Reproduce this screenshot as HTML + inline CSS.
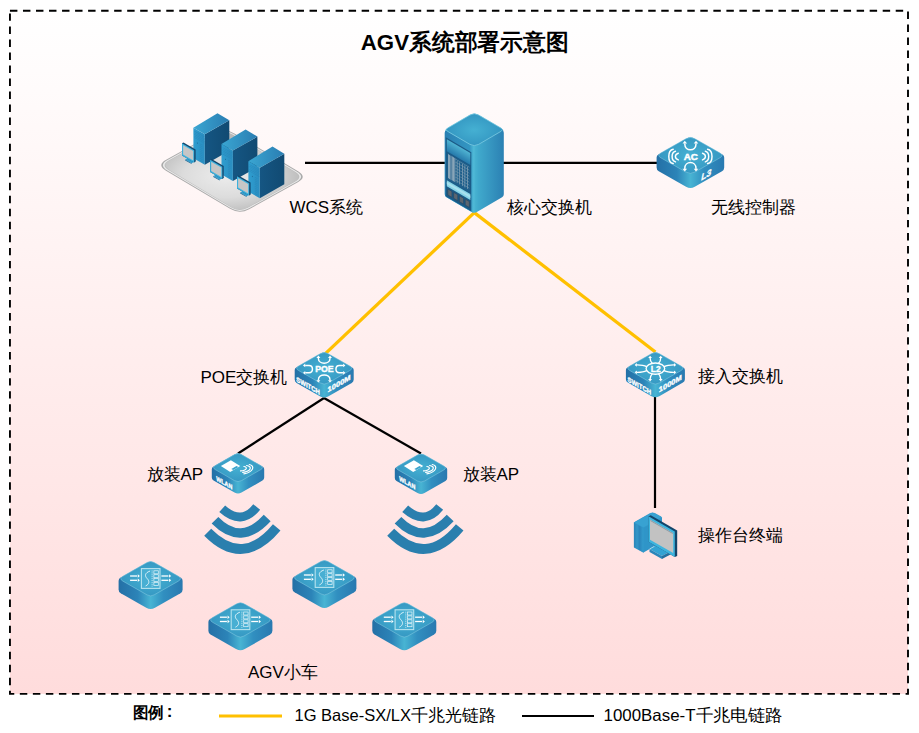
<!DOCTYPE html>
<html><head><meta charset="utf-8"><style>
html,body{margin:0;padding:0;background:#fff;width:919px;height:733px;overflow:hidden;font-family:"Liberation Sans",sans-serif;}
svg{display:block;}
</style></head><body>
<svg width="919" height="733" viewBox="0 0 919 733">
<defs><linearGradient id="bg" x1="0" y1="0" x2="0" y2="1"><stop offset="0" stop-color="#ffffff"/><stop offset="1" stop-color="#ffdcdc"/></linearGradient></defs>
<rect x="9.95" y="10.75" width="898.05" height="683.15" fill="url(#bg)"/>
<rect x="9.95" y="10.75" width="898.05" height="683.15" fill="none" stroke="#000" stroke-width="1.9" stroke-dasharray="7.45 5.576"/>
<g stroke="#000" stroke-width="2.2" fill="none"><line x1="305" y1="162.8" x2="446" y2="162.8"/><line x1="503" y1="162.8" x2="658" y2="162.8"/><line x1="324" y1="398" x2="238" y2="453.5"/><line x1="324" y1="398" x2="421" y2="453.5"/><line x1="655" y1="396" x2="655" y2="508"/></g>
<g stroke="#ffc000" stroke-width="3.3" fill="none"><line x1="474.3" y1="212.6" x2="325.4" y2="353.6"/><line x1="474.3" y1="212.6" x2="655.4" y2="352"/></g>
<defs><linearGradient id="s1" x1="656.6" x2="724.1999999999999" y1="0" y2="0" gradientUnits="userSpaceOnUse"><stop offset="0" stop-color="#2470a6"/><stop offset="0.3" stop-color="#2c84b8"/><stop offset="0.5" stop-color="#48b4d3"/><stop offset="0.7" stop-color="#318fc0"/><stop offset="1" stop-color="#2979b0"/></linearGradient><radialGradient id="t2" cx="690.4" cy="155.39999999999998" r="33.8" gradientUnits="userSpaceOnUse" gradientTransform="translate(0 155.39999999999998) scale(1 0.5680) translate(0 -155.39999999999998)"><stop offset="0" stop-color="#45b0d2"/><stop offset="1" stop-color="#3597c2"/></radialGradient></defs>
<path d="M686.05,138.67 Q690.40,136.20 694.75,138.67 L722.46,154.41 Q724.20,155.40 724.20,157.40 L724.20,167.50 Q724.20,170.00 722.03,171.23 L694.75,186.73 Q690.40,189.20 686.05,186.73 L658.77,171.23 Q656.60,170.00 656.60,167.50 L656.60,157.40 Q656.60,155.40 658.34,154.41 Z" fill="url(#s1)"/>
<path d="M686.05,138.67 Q690.40,136.20 694.75,138.67 L719.85,152.93 Q724.20,155.40 719.85,157.87 L694.75,172.13 Q690.40,174.60 686.05,172.13 L660.95,157.87 Q656.60,155.40 660.95,152.93 Z" fill="url(#t2)" stroke="#7cc6df" stroke-width="0.6"/>
<g fill="none" stroke="#fff" stroke-width="1.45" stroke-linecap="round">
<path d="M673.20,149.3 C667.33,150.50 667.33,162.30 673.20,163.5"/>
<path d="M675.50,151.3 C670.97,152.50 670.97,160.70 675.50,161.9"/>
<path d="M678.30,153.3 C674.43,154.50 674.43,158.70 678.30,159.9"/>
<path d="M707.60,149.3 C713.47,150.50 713.47,162.30 707.60,163.5"/>
<path d="M705.30,151.3 C709.83,152.50 709.83,160.70 705.30,161.9"/>
<path d="M702.50,153.3 C706.37,154.50 706.37,158.70 702.50,159.9"/>
</g><g fill="none" stroke="#fff" stroke-width="1.5" stroke-linecap="round">
<path d="M684.80,144.0 C684.80,151.8 696.00,151.8 696.00,144.0"/>
<path d="M684.80,168.4 C684.80,160.6 696.00,160.6 696.00,168.4"/>
</g>
<polygon points="684.80,140.80 687.10,143.56 682.50,143.56" fill="#fff"/><polygon points="696.00,140.80 698.30,143.56 693.70,143.56" fill="#fff"/>
<polygon points="684.80,171.60 682.50,168.84 687.10,168.84" fill="#fff"/><polygon points="696.00,171.60 693.70,168.84 698.30,168.84" fill="#fff"/>
<text x="690.8" y="159.5" font-size="9.8" font-weight="bold" fill="#fff" stroke="#fff" stroke-width="0.5" text-anchor="middle" font-family="Liberation Sans, sans-serif">AC</text>
<text transform="matrix(1 -0.57 0 1 700.8 180.8) skewX(-12)" font-size="8.6" font-weight="bold" fill="#fff" stroke="#fff" stroke-width="0.3" font-family="Liberation Sans, sans-serif">L3</text>
<defs><linearGradient id="s3" x1="294.7" x2="353.7" y1="0" y2="0" gradientUnits="userSpaceOnUse"><stop offset="0" stop-color="#2470a6"/><stop offset="0.3" stop-color="#2c84b8"/><stop offset="0.5" stop-color="#48b4d3"/><stop offset="0.7" stop-color="#318fc0"/><stop offset="1" stop-color="#2979b0"/></linearGradient><radialGradient id="t4" cx="324.2" cy="368.29999999999995" r="29.5" gradientUnits="userSpaceOnUse" gradientTransform="translate(0 368.29999999999995) scale(1 0.5729) translate(0 -368.29999999999995)"><stop offset="0" stop-color="#45b0d2"/><stop offset="1" stop-color="#3597c2"/></radialGradient></defs>
<path d="M320.30,353.64 Q324.20,351.40 328.10,353.64 L352.14,367.41 Q353.70,368.30 353.70,370.10 L353.70,379.55 Q353.70,381.80 351.75,382.92 L328.10,396.46 Q324.20,398.70 320.30,396.46 L296.65,382.92 Q294.70,381.80 294.70,379.55 L294.70,370.10 Q294.70,368.30 296.26,367.41 Z" fill="url(#s3)"/>
<path d="M320.30,353.64 Q324.20,351.40 328.10,353.64 L349.80,366.06 Q353.70,368.30 349.80,370.54 L328.10,382.96 Q324.20,385.20 320.30,382.96 L298.60,370.54 Q294.70,368.30 298.60,366.06 Z" fill="url(#t4)" stroke="#7cc6df" stroke-width="0.6"/>
<g fill="none" stroke="#fff" stroke-width="1.45" stroke-linecap="round">
<path d="M318.40,358.4 C318.40,364.8 330.00,364.8 330.00,358.4"/>
<path d="M318.40,379.8 C318.40,373.4 330.00,373.4 330.00,379.8"/>
<path d="M305.80,365.4 L309.00,365.4 C313.60,365.4 313.60,372.8 309.00,372.8 L305.80,372.8"/>
<path d="M342.60,365.4 L339.40,365.4 C334.80,365.4 334.80,372.8 339.40,372.8 L342.60,372.8"/>
</g>
<polygon points="318.40,355.60 320.40,358.00 316.40,358.00" fill="#fff"/><polygon points="330.00,355.60 332.00,358.00 328.00,358.00" fill="#fff"/>
<polygon points="318.40,382.60 316.40,380.20 320.40,380.20" fill="#fff"/><polygon points="330.00,382.60 328.00,380.20 332.00,380.20" fill="#fff"/>
<polygon points="303.00,365.40 305.28,363.50 305.28,367.30" fill="#fff"/><polygon points="303.00,372.80 305.28,370.90 305.28,374.70" fill="#fff"/>
<polygon points="345.40,365.40 343.12,367.30 343.12,363.50" fill="#fff"/><polygon points="345.40,372.80 343.12,374.70 343.12,370.90" fill="#fff"/>
<text x="324.4" y="372.0" font-size="8.9" font-weight="bold" fill="#fff" stroke="#fff" stroke-width="0.4" text-anchor="middle" font-family="Liberation Sans, sans-serif" textLength="18.5" lengthAdjust="spacingAndGlyphs">POE</text>
<text transform="matrix(1 0.572 0 1 296.30 381.40)" font-size="7.0" font-weight="bold" fill="#fff" stroke="#fff" stroke-width="0.35" font-family="Liberation Sans, sans-serif" textLength="23.5" lengthAdjust="spacingAndGlyphs">SWITCH</text>
<text transform="matrix(1 -0.572 0 1 327.60 392.60)" font-size="7.2" font-weight="bold" fill="#fff" stroke="#fff" stroke-width="0.35" font-family="Liberation Sans, sans-serif" textLength="23" lengthAdjust="spacingAndGlyphs">1000M</text>
<defs><linearGradient id="s5" x1="625.9" x2="684.9" y1="0" y2="0" gradientUnits="userSpaceOnUse"><stop offset="0" stop-color="#2470a6"/><stop offset="0.3" stop-color="#2c84b8"/><stop offset="0.5" stop-color="#48b4d3"/><stop offset="0.7" stop-color="#318fc0"/><stop offset="1" stop-color="#2979b0"/></linearGradient><radialGradient id="t6" cx="655.4" cy="368.29999999999995" r="29.5" gradientUnits="userSpaceOnUse" gradientTransform="translate(0 368.29999999999995) scale(1 0.5729) translate(0 -368.29999999999995)"><stop offset="0" stop-color="#45b0d2"/><stop offset="1" stop-color="#3597c2"/></radialGradient></defs>
<path d="M651.50,353.64 Q655.40,351.40 659.30,353.64 L683.34,367.41 Q684.90,368.30 684.90,370.10 L684.90,379.25 Q684.90,381.50 682.95,382.62 L659.30,396.16 Q655.40,398.40 651.50,396.16 L627.85,382.62 Q625.90,381.50 625.90,379.25 L625.90,370.10 Q625.90,368.30 627.46,367.41 Z" fill="url(#s5)"/>
<path d="M651.50,353.64 Q655.40,351.40 659.30,353.64 L681.00,366.06 Q684.90,368.30 681.00,370.54 L659.30,382.96 Q655.40,385.20 651.50,382.96 L629.80,370.54 Q625.90,368.30 629.80,366.06 Z" fill="url(#t6)" stroke="#7cc6df" stroke-width="0.6"/>
<g fill="none" stroke="#fff" stroke-width="1.35" stroke-linecap="round">
<ellipse cx="655.4" cy="368.6" rx="9.3" ry="5.6"/>
<path d="M652.20,363.30 Q650.10,361.10 650.10,358.10"/>
<path d="M652.20,373.90 Q650.10,376.10 650.10,379.10"/>
<path d="M646.60,366.60 Q643.40,364.90 637.20,364.90"/>
<path d="M646.60,370.60 Q643.40,372.30 637.20,372.30"/>
<path d="M658.60,363.30 Q660.70,361.10 660.70,358.10"/>
<path d="M658.60,373.90 Q660.70,376.10 660.70,379.10"/>
<path d="M664.20,366.60 Q667.40,364.90 673.60,364.90"/>
<path d="M664.20,370.60 Q667.40,372.30 673.60,372.30"/>
</g>
<polygon points="650.10,355.80 652.00,358.08 648.20,358.08" fill="#fff"/><polygon points="650.10,381.40 648.20,379.12 652.00,379.12" fill="#fff"/>
<polygon points="634.60,364.90 636.88,363.00 636.88,366.80" fill="#fff"/><polygon points="634.60,372.30 636.88,370.40 636.88,374.20" fill="#fff"/>
<polygon points="660.70,355.80 662.60,358.08 658.80,358.08" fill="#fff"/><polygon points="660.70,381.40 658.80,379.12 662.60,379.12" fill="#fff"/>
<polygon points="676.20,364.90 673.92,366.80 673.92,363.00" fill="#fff"/><polygon points="676.20,372.30 673.92,374.20 673.92,370.40" fill="#fff"/>
<text x="655.6999999999999" y="371.70" font-size="8.4" font-weight="bold" fill="#fff" stroke="#fff" stroke-width="0.35" text-anchor="middle" font-family="Liberation Sans, sans-serif">L2</text>
<text transform="matrix(1 0.572 0 1 627.50 381.40)" font-size="7.0" font-weight="bold" fill="#fff" stroke="#fff" stroke-width="0.35" font-family="Liberation Sans, sans-serif" textLength="23.5" lengthAdjust="spacingAndGlyphs">SWITCH</text>
<text transform="matrix(1 -0.572 0 1 658.80 392.60)" font-size="7.2" font-weight="bold" fill="#fff" stroke="#fff" stroke-width="0.35" font-family="Liberation Sans, sans-serif" textLength="23" lengthAdjust="spacingAndGlyphs">1000M</text>
<defs><linearGradient id="s7" x1="211.8" x2="264.2" y1="0" y2="0" gradientUnits="userSpaceOnUse"><stop offset="0" stop-color="#2470a6"/><stop offset="0.3" stop-color="#2c84b8"/><stop offset="0.5" stop-color="#48b4d3"/><stop offset="0.7" stop-color="#318fc0"/><stop offset="1" stop-color="#2979b0"/></linearGradient><radialGradient id="t8" cx="238" cy="467.6" r="26.2" gradientUnits="userSpaceOnUse" gradientTransform="translate(0 467.6) scale(1 0.5725) translate(0 -467.6)"><stop offset="0" stop-color="#45b0d2"/><stop offset="1" stop-color="#3597c2"/></radialGradient></defs>
<path d="M234.53,454.59 Q238.00,452.60 241.47,454.59 L262.81,466.81 Q264.20,467.60 264.20,469.20 L264.20,477.60 Q264.20,479.60 262.46,480.59 L241.47,492.61 Q238.00,494.60 234.53,492.61 L213.54,480.59 Q211.80,479.60 211.80,477.60 L211.80,469.20 Q211.80,467.60 213.19,466.81 Z" fill="url(#s7)"/>
<path d="M234.53,454.59 Q238.00,452.60 241.47,454.59 L260.73,465.61 Q264.20,467.60 260.73,469.59 L241.47,480.61 Q238.00,482.60 234.53,480.61 L215.27,469.59 Q211.80,467.60 215.27,465.61 Z" fill="url(#t8)" stroke="#7cc6df" stroke-width="0.6"/>
<polygon points="220.90,465.90 230.90,460.20 240.20,466.10 230.20,471.90" fill="#fff"/>
<polygon points="231.30,468.90 236.50,465.90 238.40,467.00 233.20,470.00" fill="#3aa3cc"/>
<g fill="none" stroke="#fff" stroke-width="1.2" stroke-linecap="round" transform="translate(0 0)"><path d="M243.9,466.5 C248,467 247,470.4 240.5,470.9"/><path d="M246.6,465.5 C252.5,466.2 251.5,471.2 242.7,472.4"/><path d="M249.3,464.5 C255,465.5 254,472 243.9,473.9"/></g>
<text transform="matrix(1 0.57 0 1 216.30 480.5)" font-size="6.6" font-weight="bold" fill="#fff" stroke="#fff" stroke-width="0.35" font-family="Liberation Sans, sans-serif" textLength="16" lengthAdjust="spacingAndGlyphs">WLAN</text>
<defs><linearGradient id="s9" x1="394.8" x2="447.2" y1="0" y2="0" gradientUnits="userSpaceOnUse"><stop offset="0" stop-color="#2470a6"/><stop offset="0.3" stop-color="#2c84b8"/><stop offset="0.5" stop-color="#48b4d3"/><stop offset="0.7" stop-color="#318fc0"/><stop offset="1" stop-color="#2979b0"/></linearGradient><radialGradient id="t10" cx="421" cy="468.0" r="26.2" gradientUnits="userSpaceOnUse" gradientTransform="translate(0 468.0) scale(1 0.5725) translate(0 -468.0)"><stop offset="0" stop-color="#45b0d2"/><stop offset="1" stop-color="#3597c2"/></radialGradient></defs>
<path d="M417.53,454.99 Q421.00,453.00 424.47,454.99 L445.81,467.21 Q447.20,468.00 447.20,469.60 L447.20,478.00 Q447.20,480.00 445.46,480.99 L424.47,493.01 Q421.00,495.00 417.53,493.01 L396.54,480.99 Q394.80,480.00 394.80,478.00 L394.80,469.60 Q394.80,468.00 396.19,467.21 Z" fill="url(#s9)"/>
<path d="M417.53,454.99 Q421.00,453.00 424.47,454.99 L443.73,466.01 Q447.20,468.00 443.73,469.99 L424.47,481.01 Q421.00,483.00 417.53,481.01 L398.27,469.99 Q394.80,468.00 398.27,466.01 Z" fill="url(#t10)" stroke="#7cc6df" stroke-width="0.6"/>
<polygon points="403.90,465.90 413.90,460.20 423.20,466.10 413.20,471.90" fill="#fff"/>
<polygon points="414.30,468.90 419.50,465.90 421.40,467.00 416.20,470.00" fill="#3aa3cc"/>
<g fill="none" stroke="#fff" stroke-width="1.2" stroke-linecap="round" transform="translate(183 0)"><path d="M243.9,466.5 C248,467 247,470.4 240.5,470.9"/><path d="M246.6,465.5 C252.5,466.2 251.5,471.2 242.7,472.4"/><path d="M249.3,464.5 C255,465.5 254,472 243.9,473.9"/></g>
<text transform="matrix(1 0.57 0 1 399.30 480.5)" font-size="6.6" font-weight="bold" fill="#fff" stroke="#fff" stroke-width="0.35" font-family="Liberation Sans, sans-serif" textLength="16" lengthAdjust="spacingAndGlyphs">WLAN</text>
<defs><linearGradient id="s11" x1="118.6" x2="182.6" y1="0" y2="0" gradientUnits="userSpaceOnUse"><stop offset="0" stop-color="#2470a6"/><stop offset="0.3" stop-color="#2c84b8"/><stop offset="0.5" stop-color="#48b4d3"/><stop offset="0.7" stop-color="#318fc0"/><stop offset="1" stop-color="#2979b0"/></linearGradient><radialGradient id="t12" cx="150.6" cy="578.7" r="32" gradientUnits="userSpaceOnUse" gradientTransform="translate(0 578.7) scale(1 0.5687) translate(0 -578.7)"><stop offset="0" stop-color="#45b0d2"/><stop offset="1" stop-color="#3597c2"/></radialGradient></defs>
<path d="M146.25,562.97 Q150.60,560.50 154.95,562.97 L180.86,577.71 Q182.60,578.70 182.60,580.70 L182.60,589.60 Q182.60,592.10 180.43,593.34 L154.95,607.83 Q150.60,610.30 146.25,607.83 L120.77,593.34 Q118.60,592.10 118.60,589.60 L118.60,580.70 Q118.60,578.70 120.34,577.71 Z" fill="url(#s11)"/>
<path d="M147.12,562.48 Q150.60,560.50 154.08,562.48 L178.25,576.23 Q182.60,578.70 178.25,581.17 L154.08,594.92 Q150.60,596.90 147.12,594.92 L122.95,581.17 Q118.60,578.70 122.95,576.23 Z" fill="url(#t12)" stroke="#7cc6df" stroke-width="0.6"/>
<rect x="141.40" y="568.60" width="18.6" height="19.8" fill="#48afd3" stroke="#b6e2ee" stroke-width="1.1"/>
<path d="M150.10,571.00 C144.60,573.00 144.60,576.00 147.10,578.50 C149.60,581.00 149.60,584.00 145.60,586.00" fill="none" stroke="#e8f6fa" stroke-width="0.9"/>
<line x1="152.10" y1="570.50" x2="152.10" y2="586.50" stroke="#e8f6fa" stroke-width="0.8" stroke-dasharray="1 0.9"/>
<rect x="153.90" y="570.80" width="4.4" height="3" fill="none" stroke="#e8f6fa" stroke-width="0.7"/>
<rect x="153.90" y="574.70" width="4.4" height="3" fill="none" stroke="#e8f6fa" stroke-width="0.7"/>
<rect x="153.90" y="578.60" width="4.4" height="3" fill="none" stroke="#e8f6fa" stroke-width="0.7"/>
<rect x="153.90" y="582.50" width="4.4" height="3" fill="none" stroke="#e8f6fa" stroke-width="0.7"/>
<line x1="130.10" y1="576.00" x2="137.10" y2="576.00" stroke="#fff" stroke-width="1.3"/>
<polygon points="139.90,576.00 137.74,577.80 137.74,574.20" fill="#fff"/>
<line x1="130.10" y1="580.30" x2="137.10" y2="580.30" stroke="#fff" stroke-width="1.3"/>
<polygon points="139.90,580.30 137.74,582.10 137.74,578.50" fill="#fff"/>
<line x1="161.40" y1="576.00" x2="168.40" y2="576.00" stroke="#fff" stroke-width="1.3"/>
<polygon points="171.20,576.00 169.04,577.80 169.04,574.20" fill="#fff"/>
<line x1="161.40" y1="580.30" x2="168.40" y2="580.30" stroke="#fff" stroke-width="1.3"/>
<polygon points="171.20,580.30 169.04,582.10 169.04,578.50" fill="#fff"/>
<defs><linearGradient id="s13" x1="208.4" x2="272.4" y1="0" y2="0" gradientUnits="userSpaceOnUse"><stop offset="0" stop-color="#2470a6"/><stop offset="0.3" stop-color="#2c84b8"/><stop offset="0.5" stop-color="#48b4d3"/><stop offset="0.7" stop-color="#318fc0"/><stop offset="1" stop-color="#2979b0"/></linearGradient><radialGradient id="t14" cx="240.4" cy="619.9000000000001" r="32" gradientUnits="userSpaceOnUse" gradientTransform="translate(0 619.9000000000001) scale(1 0.5687) translate(0 -619.9000000000001)"><stop offset="0" stop-color="#45b0d2"/><stop offset="1" stop-color="#3597c2"/></radialGradient></defs>
<path d="M236.05,604.17 Q240.40,601.70 244.75,604.17 L270.66,618.91 Q272.40,619.90 272.40,621.90 L272.40,630.80 Q272.40,633.30 270.23,634.54 L244.75,649.03 Q240.40,651.50 236.05,649.03 L210.57,634.54 Q208.40,633.30 208.40,630.80 L208.40,621.90 Q208.40,619.90 210.14,618.91 Z" fill="url(#s13)"/>
<path d="M236.92,603.68 Q240.40,601.70 243.88,603.68 L268.05,617.43 Q272.40,619.90 268.05,622.37 L243.88,636.12 Q240.40,638.10 236.92,636.12 L212.75,622.37 Q208.40,619.90 212.75,617.43 Z" fill="url(#t14)" stroke="#7cc6df" stroke-width="0.6"/>
<rect x="231.20" y="609.80" width="18.6" height="19.8" fill="#48afd3" stroke="#b6e2ee" stroke-width="1.1"/>
<path d="M239.90,612.20 C234.40,614.20 234.40,617.20 236.90,619.70 C239.40,622.20 239.40,625.20 235.40,627.20" fill="none" stroke="#e8f6fa" stroke-width="0.9"/>
<line x1="241.90" y1="611.70" x2="241.90" y2="627.70" stroke="#e8f6fa" stroke-width="0.8" stroke-dasharray="1 0.9"/>
<rect x="243.70" y="612.00" width="4.4" height="3" fill="none" stroke="#e8f6fa" stroke-width="0.7"/>
<rect x="243.70" y="615.90" width="4.4" height="3" fill="none" stroke="#e8f6fa" stroke-width="0.7"/>
<rect x="243.70" y="619.80" width="4.4" height="3" fill="none" stroke="#e8f6fa" stroke-width="0.7"/>
<rect x="243.70" y="623.70" width="4.4" height="3" fill="none" stroke="#e8f6fa" stroke-width="0.7"/>
<line x1="219.90" y1="617.20" x2="226.90" y2="617.20" stroke="#fff" stroke-width="1.3"/>
<polygon points="229.70,617.20 227.54,619.00 227.54,615.40" fill="#fff"/>
<line x1="219.90" y1="621.50" x2="226.90" y2="621.50" stroke="#fff" stroke-width="1.3"/>
<polygon points="229.70,621.50 227.54,623.30 227.54,619.70" fill="#fff"/>
<line x1="251.20" y1="617.20" x2="258.20" y2="617.20" stroke="#fff" stroke-width="1.3"/>
<polygon points="261.00,617.20 258.84,619.00 258.84,615.40" fill="#fff"/>
<line x1="251.20" y1="621.50" x2="258.20" y2="621.50" stroke="#fff" stroke-width="1.3"/>
<polygon points="261.00,621.50 258.84,623.30 258.84,619.70" fill="#fff"/>
<defs><linearGradient id="s15" x1="292.4" x2="356.4" y1="0" y2="0" gradientUnits="userSpaceOnUse"><stop offset="0" stop-color="#2470a6"/><stop offset="0.3" stop-color="#2c84b8"/><stop offset="0.5" stop-color="#48b4d3"/><stop offset="0.7" stop-color="#318fc0"/><stop offset="1" stop-color="#2979b0"/></linearGradient><radialGradient id="t16" cx="324.4" cy="577.7" r="32" gradientUnits="userSpaceOnUse" gradientTransform="translate(0 577.7) scale(1 0.5687) translate(0 -577.7)"><stop offset="0" stop-color="#45b0d2"/><stop offset="1" stop-color="#3597c2"/></radialGradient></defs>
<path d="M320.05,561.97 Q324.40,559.50 328.75,561.97 L354.66,576.71 Q356.40,577.70 356.40,579.70 L356.40,588.60 Q356.40,591.10 354.23,592.34 L328.75,606.83 Q324.40,609.30 320.05,606.83 L294.57,592.34 Q292.40,591.10 292.40,588.60 L292.40,579.70 Q292.40,577.70 294.14,576.71 Z" fill="url(#s15)"/>
<path d="M320.92,561.48 Q324.40,559.50 327.88,561.48 L352.05,575.23 Q356.40,577.70 352.05,580.17 L327.88,593.92 Q324.40,595.90 320.92,593.92 L296.75,580.17 Q292.40,577.70 296.75,575.23 Z" fill="url(#t16)" stroke="#7cc6df" stroke-width="0.6"/>
<rect x="315.20" y="567.60" width="18.6" height="19.8" fill="#48afd3" stroke="#b6e2ee" stroke-width="1.1"/>
<path d="M323.90,570.00 C318.40,572.00 318.40,575.00 320.90,577.50 C323.40,580.00 323.40,583.00 319.40,585.00" fill="none" stroke="#e8f6fa" stroke-width="0.9"/>
<line x1="325.90" y1="569.50" x2="325.90" y2="585.50" stroke="#e8f6fa" stroke-width="0.8" stroke-dasharray="1 0.9"/>
<rect x="327.70" y="569.80" width="4.4" height="3" fill="none" stroke="#e8f6fa" stroke-width="0.7"/>
<rect x="327.70" y="573.70" width="4.4" height="3" fill="none" stroke="#e8f6fa" stroke-width="0.7"/>
<rect x="327.70" y="577.60" width="4.4" height="3" fill="none" stroke="#e8f6fa" stroke-width="0.7"/>
<rect x="327.70" y="581.50" width="4.4" height="3" fill="none" stroke="#e8f6fa" stroke-width="0.7"/>
<line x1="303.90" y1="575.00" x2="310.90" y2="575.00" stroke="#fff" stroke-width="1.3"/>
<polygon points="313.70,575.00 311.54,576.80 311.54,573.20" fill="#fff"/>
<line x1="303.90" y1="579.30" x2="310.90" y2="579.30" stroke="#fff" stroke-width="1.3"/>
<polygon points="313.70,579.30 311.54,581.10 311.54,577.50" fill="#fff"/>
<line x1="335.20" y1="575.00" x2="342.20" y2="575.00" stroke="#fff" stroke-width="1.3"/>
<polygon points="345.00,575.00 342.84,576.80 342.84,573.20" fill="#fff"/>
<line x1="335.20" y1="579.30" x2="342.20" y2="579.30" stroke="#fff" stroke-width="1.3"/>
<polygon points="345.00,579.30 342.84,581.10 342.84,577.50" fill="#fff"/>
<defs><linearGradient id="s17" x1="372.3" x2="436.3" y1="0" y2="0" gradientUnits="userSpaceOnUse"><stop offset="0" stop-color="#2470a6"/><stop offset="0.3" stop-color="#2c84b8"/><stop offset="0.5" stop-color="#48b4d3"/><stop offset="0.7" stop-color="#318fc0"/><stop offset="1" stop-color="#2979b0"/></linearGradient><radialGradient id="t18" cx="404.3" cy="619.9000000000001" r="32" gradientUnits="userSpaceOnUse" gradientTransform="translate(0 619.9000000000001) scale(1 0.5687) translate(0 -619.9000000000001)"><stop offset="0" stop-color="#45b0d2"/><stop offset="1" stop-color="#3597c2"/></radialGradient></defs>
<path d="M399.95,604.17 Q404.30,601.70 408.65,604.17 L434.56,618.91 Q436.30,619.90 436.30,621.90 L436.30,630.80 Q436.30,633.30 434.13,634.54 L408.65,649.03 Q404.30,651.50 399.95,649.03 L374.47,634.54 Q372.30,633.30 372.30,630.80 L372.30,621.90 Q372.30,619.90 374.04,618.91 Z" fill="url(#s17)"/>
<path d="M400.82,603.68 Q404.30,601.70 407.78,603.68 L431.95,617.43 Q436.30,619.90 431.95,622.37 L407.78,636.12 Q404.30,638.10 400.82,636.12 L376.65,622.37 Q372.30,619.90 376.65,617.43 Z" fill="url(#t18)" stroke="#7cc6df" stroke-width="0.6"/>
<rect x="395.10" y="609.80" width="18.6" height="19.8" fill="#48afd3" stroke="#b6e2ee" stroke-width="1.1"/>
<path d="M403.80,612.20 C398.30,614.20 398.30,617.20 400.80,619.70 C403.30,622.20 403.30,625.20 399.30,627.20" fill="none" stroke="#e8f6fa" stroke-width="0.9"/>
<line x1="405.80" y1="611.70" x2="405.80" y2="627.70" stroke="#e8f6fa" stroke-width="0.8" stroke-dasharray="1 0.9"/>
<rect x="407.60" y="612.00" width="4.4" height="3" fill="none" stroke="#e8f6fa" stroke-width="0.7"/>
<rect x="407.60" y="615.90" width="4.4" height="3" fill="none" stroke="#e8f6fa" stroke-width="0.7"/>
<rect x="407.60" y="619.80" width="4.4" height="3" fill="none" stroke="#e8f6fa" stroke-width="0.7"/>
<rect x="407.60" y="623.70" width="4.4" height="3" fill="none" stroke="#e8f6fa" stroke-width="0.7"/>
<line x1="383.80" y1="617.20" x2="390.80" y2="617.20" stroke="#fff" stroke-width="1.3"/>
<polygon points="393.60,617.20 391.44,619.00 391.44,615.40" fill="#fff"/>
<line x1="383.80" y1="621.50" x2="390.80" y2="621.50" stroke="#fff" stroke-width="1.3"/>
<polygon points="393.60,621.50 391.44,623.30 391.44,619.70" fill="#fff"/>
<line x1="415.10" y1="617.20" x2="422.10" y2="617.20" stroke="#fff" stroke-width="1.3"/>
<polygon points="424.90,617.20 422.74,619.00 422.74,615.40" fill="#fff"/>
<line x1="415.10" y1="621.50" x2="422.10" y2="621.50" stroke="#fff" stroke-width="1.3"/>
<polygon points="424.90,621.50 422.74,623.30 422.74,619.70" fill="#fff"/>
<g fill="none" stroke="#2a7fae" stroke-linecap="butt" transform="translate(0 0)"><path d="M222.2,508.75 Q241.55,526.1 256.7,507" stroke-width="8.8"/><path d="M215,520.35 Q240.9,546.8 267.2,518" stroke-width="9.3"/><path d="M207.7,532.25 Q242.8,568 276.7,527.35" stroke-width="9.8"/></g>
<g fill="none" stroke="#2a7fae" stroke-linecap="butt" transform="translate(183 0)"><path d="M222.2,508.75 Q241.55,526.1 256.7,507" stroke-width="8.8"/><path d="M215,520.35 Q240.9,546.8 267.2,518" stroke-width="9.3"/><path d="M207.7,532.25 Q242.8,568 276.7,527.35" stroke-width="9.8"/></g>
<defs><linearGradient id="coreR" x1="474" x2="504" y1="0" y2="0" gradientUnits="userSpaceOnUse"><stop offset="0" stop-color="#4ab5d3"/><stop offset="0.15" stop-color="#40a9cc"/><stop offset="1" stop-color="#2b80b3"/></linearGradient><linearGradient id="coreL" x1="445" x2="474" y1="0" y2="0" gradientUnits="userSpaceOnUse"><stop offset="0" stop-color="#2a80b3"/><stop offset="0.85" stop-color="#3396c2"/><stop offset="1" stop-color="#52bcd8"/></linearGradient><radialGradient id="coreT" cx="474" cy="130" r="30" gradientUnits="userSpaceOnUse" gradientTransform="translate(0 130) scale(1 0.58) translate(0 -130)"><stop offset="0" stop-color="#45b0d2"/><stop offset="1" stop-color="#3294c0"/></radialGradient><linearGradient id="scr" x1="0" x2="0" y1="0" y2="1"><stop offset="0" stop-color="#4fb3d2"/><stop offset="1" stop-color="#2579ab"/></linearGradient></defs>
<path d="M469.98,115.02 Q474.30,112.50 478.62,115.02 L501.21,128.19 Q503.80,129.70 503.80,132.70 L503.80,194.20 Q503.80,196.20 502.07,197.21 L476.89,211.89 Q474.30,213.40 471.71,211.89 L446.53,197.21 Q444.80,196.20 444.80,194.20 L444.80,132.70 Q444.80,129.70 447.39,128.19 Z" fill="url(#coreR)"/>
<path d="M444.80,132.70 Q444.80,129.70 447.39,131.21 L474.21,146.85 Q474.30,146.90 474.30,147.00 L474.30,210.40 Q474.30,213.40 471.71,211.89 L446.53,197.21 Q444.80,196.20 444.80,194.20 Z" fill="url(#coreL)"/>
<g transform="matrix(1 0.5831 0 1 444.8 129.7)"><rect x="1" y="7" width="25.5" height="59" fill="#1b5a86"/><rect x="2" y="8.5" width="23.5" height="12" fill="url(#scr)"/><rect x="2.5" y="21.5" width="22.5" height="27" fill="#1f5f8b"/><rect x="3.20" y="22.5" width="0.7" height="24" fill="#b8c4cc"/><rect x="4.50" y="22.5" width="0.7" height="24" fill="#b8c4cc"/><rect x="5.80" y="22.5" width="0.7" height="24" fill="#b8c4cc"/><rect x="7.10" y="22.5" width="0.7" height="24" fill="#b8c4cc"/><rect x="8.40" y="22.5" width="0.7" height="24" fill="#b8c4cc"/><rect x="9.70" y="22.5" width="0.7" height="24" fill="#b8c4cc"/><rect x="12.00" y="24" width="0.6" height="22" fill="#9fb3c0"/><rect x="14.60" y="24" width="0.6" height="22" fill="#9fb3c0"/><rect x="17.20" y="24" width="0.6" height="22" fill="#9fb3c0"/><rect x="19.80" y="24" width="0.6" height="22" fill="#9fb3c0"/><rect x="22.40" y="24" width="0.6" height="22" fill="#9fb3c0"/><rect x="10.5" y="23.00" width="14" height="0.5" fill="#7f9fb2"/><rect x="10.5" y="26.00" width="14" height="0.5" fill="#7f9fb2"/><rect x="10.5" y="29.00" width="14" height="0.5" fill="#7f9fb2"/><rect x="10.5" y="32.00" width="14" height="0.5" fill="#7f9fb2"/><rect x="10.5" y="35.00" width="14" height="0.5" fill="#7f9fb2"/><rect x="10.5" y="38.00" width="14" height="0.5" fill="#7f9fb2"/><rect x="10.5" y="41.00" width="14" height="0.5" fill="#7f9fb2"/><rect x="10.5" y="44.00" width="14" height="0.5" fill="#7f9fb2"/><rect x="2" y="49.5" width="23.5" height="6" fill="#86d3e6"/><rect x="2" y="51" width="23.5" height="2.5" fill="#a8e0ee"/><rect x="3.00" y="57.5" width="4.2" height="6" fill="#5c6670" stroke="#244a66" stroke-width="0.6"/><rect x="8.80" y="57.5" width="4.2" height="6" fill="#5c6670" stroke="#244a66" stroke-width="0.6"/><rect x="14.60" y="57.5" width="4.2" height="6" fill="#5c6670" stroke="#244a66" stroke-width="0.6"/><rect x="20.40" y="57.5" width="4.2" height="6" fill="#5c6670" stroke="#244a66" stroke-width="0.6"/></g>
<path d="M469.98,115.02 Q474.30,112.50 478.62,115.02 L501.21,128.19 Q503.80,129.70 501.21,131.21 L478.62,144.38 Q474.30,146.90 469.98,144.38 L447.39,131.21 Q444.80,129.70 447.39,128.19 Z" fill="url(#coreT)" stroke="#7ccbe2" stroke-width="0.8"/>
<defs><linearGradient id="svS" x1="0" x2="1" y1="0" y2="0"><stop offset="0" stop-color="#155683"/><stop offset="1" stop-color="#114a72"/></linearGradient><linearGradient id="svF" x1="0" x2="1" y1="0" y2="0"><stop offset="0" stop-color="#2f9ed0"/><stop offset="1" stop-color="#2a8dc0"/></linearGradient><linearGradient id="svT" x1="0" x2="1" y1="0.5" y2="0.5"><stop offset="0" stop-color="#3aa6d2"/><stop offset="1" stop-color="#2a7db2"/></linearGradient><radialGradient id="plat" cx="226" cy="176" r="78" gradientUnits="userSpaceOnUse" gradientTransform="translate(226 176) scale(1 0.5) translate(-226 -176)"><stop offset="0" stop-color="#ececec"/><stop offset="0.55" stop-color="#dcdcdc"/><stop offset="1" stop-color="#bababa"/></radialGradient></defs>
<path d="M165.95,170.63 Q156.50,165.00 166.13,159.69 L214.87,132.81 Q224.50,127.50 233.95,133.13 L298.05,171.37 Q307.50,177.00 297.87,182.31 L249.13,209.19 Q239.50,214.50 230.05,208.87 Z" fill="#a9a9a9"/>
<path d="M167.31,170.38 Q158.30,165.00 167.49,159.93 L215.31,133.57 Q224.50,128.50 233.51,133.88 L296.69,171.62 Q305.70,177.00 296.51,182.07 L248.69,208.43 Q239.50,213.50 230.49,208.12 Z" fill="#e9e9e9"/>
<path d="M168.88,170.14 Q160.30,165.00 169.06,160.17 L215.74,134.43 Q224.50,129.60 233.08,134.74 L295.12,171.86 Q303.70,177.00 294.94,181.83 L248.26,207.57 Q239.50,212.40 230.92,207.26 Z" fill="#bdbdbd"/>
<path d="M169.45,169.88 Q161.30,165.00 169.62,160.42 L216.18,134.78 Q224.50,130.20 232.65,135.08 L294.55,172.12 Q302.70,177.00 294.38,181.58 L247.82,207.22 Q239.50,211.80 231.35,206.92 Z" fill="url(#plat)"/>
<polygon points="204.80,134.30 229.30,120.30 229.30,150.80 204.80,164.80" fill="url(#svS)"/>
<polygon points="193.40,127.80 204.80,134.30 204.80,164.80 193.40,158.30" fill="url(#svF)"/>
<polygon points="217.50,113.20 229.30,120.30 204.80,134.30 193.40,127.80" fill="url(#svT)"/>
<g transform="matrix(1 0.5702 0 1 193.4 127.8)" fill="#2a88bb"><rect x="1" y="2.50" width="10" height="0.6"/><rect x="1" y="4.10" width="10" height="0.6"/><rect x="1" y="5.70" width="10" height="0.6"/><rect x="1" y="7.30" width="10" height="0.6"/><rect x="1" y="8.90" width="10" height="0.6"/><rect x="6.5" y="12.00" width="2.5" height="0.5" fill="#2986b8"/><rect x="6.5" y="13.80" width="2.5" height="0.5" fill="#2986b8"/><rect x="6.5" y="15.60" width="2.5" height="0.5" fill="#2986b8"/><rect x="6.5" y="17.40" width="2.5" height="0.5" fill="#2986b8"/><rect x="6.5" y="19.20" width="2.5" height="0.5" fill="#2986b8"/><rect x="6.5" y="21.00" width="2.5" height="0.5" fill="#2986b8"/><rect x="6.5" y="22.80" width="2.5" height="0.5" fill="#2986b8"/><rect x="6.5" y="24.60" width="2.5" height="0.5" fill="#2986b8"/><rect x="6.5" y="26.40" width="2.5" height="0.5" fill="#2986b8"/><rect x="6.5" y="28.20" width="2.5" height="0.5" fill="#2986b8"/><circle cx="4" cy="13" r="0.55" fill="#1f6c9c"/></g>
<polygon points="185.20,159.60 189.80,157.20 196.20,160.80 191.60,163.20" fill="#2f9fd0"/>
<polygon points="185.20,159.60 191.60,163.20 191.60,164.00 185.20,160.40" fill="#1d6b9a"/>
<polygon points="189.40,156.00 191.20,157.00 191.20,160.50 189.40,159.50" fill="#2a8cc0"/>
<polygon points="182.00,143.20 183.50,142.40 195.60,149.40 195.60,161.60 194.20,162.40 182.00,155.40" fill="#14466c"/>
<polygon points="182.00,143.20 194.20,150.20 194.20,162.40 182.00,155.40" fill="#3cb2de"/>
<polygon points="183.10,145.20 193.20,151.00 193.20,160.40 183.10,154.60" fill="#c6c6c6"/>
<polygon points="232.90,150.60 257.40,136.60 257.40,167.10 232.90,181.10" fill="url(#svS)"/>
<polygon points="221.50,144.10 232.90,150.60 232.90,181.10 221.50,174.60" fill="url(#svF)"/>
<polygon points="245.60,129.50 257.40,136.60 232.90,150.60 221.50,144.10" fill="url(#svT)"/>
<g transform="matrix(1 0.5702 0 1 221.5 144.1)" fill="#2a88bb"><rect x="1" y="2.50" width="10" height="0.6"/><rect x="1" y="4.10" width="10" height="0.6"/><rect x="1" y="5.70" width="10" height="0.6"/><rect x="1" y="7.30" width="10" height="0.6"/><rect x="1" y="8.90" width="10" height="0.6"/><rect x="6.5" y="12.00" width="2.5" height="0.5" fill="#2986b8"/><rect x="6.5" y="13.80" width="2.5" height="0.5" fill="#2986b8"/><rect x="6.5" y="15.60" width="2.5" height="0.5" fill="#2986b8"/><rect x="6.5" y="17.40" width="2.5" height="0.5" fill="#2986b8"/><rect x="6.5" y="19.20" width="2.5" height="0.5" fill="#2986b8"/><rect x="6.5" y="21.00" width="2.5" height="0.5" fill="#2986b8"/><rect x="6.5" y="22.80" width="2.5" height="0.5" fill="#2986b8"/><rect x="6.5" y="24.60" width="2.5" height="0.5" fill="#2986b8"/><rect x="6.5" y="26.40" width="2.5" height="0.5" fill="#2986b8"/><rect x="6.5" y="28.20" width="2.5" height="0.5" fill="#2986b8"/><circle cx="4" cy="13" r="0.55" fill="#1f6c9c"/></g>
<polygon points="213.30,176.10 217.90,173.70 224.30,177.30 219.70,179.70" fill="#2f9fd0"/>
<polygon points="213.30,176.10 219.70,179.70 219.70,180.50 213.30,176.90" fill="#1d6b9a"/>
<polygon points="217.50,172.50 219.30,173.50 219.30,177.00 217.50,176.00" fill="#2a8cc0"/>
<polygon points="210.10,159.70 211.60,158.90 223.70,165.90 223.70,178.10 222.30,178.90 210.10,171.90" fill="#14466c"/>
<polygon points="210.10,159.70 222.30,166.70 222.30,178.90 210.10,171.90" fill="#3cb2de"/>
<polygon points="211.20,161.70 221.30,167.50 221.30,176.90 211.20,171.10" fill="#c6c6c6"/>
<polygon points="259.80,167.70 284.30,153.70 284.30,184.20 259.80,198.20" fill="url(#svS)"/>
<polygon points="248.40,161.20 259.80,167.70 259.80,198.20 248.40,191.70" fill="url(#svF)"/>
<polygon points="272.50,146.60 284.30,153.70 259.80,167.70 248.40,161.20" fill="url(#svT)"/>
<g transform="matrix(1 0.5702 0 1 248.4 161.2)" fill="#2a88bb"><rect x="1" y="2.50" width="10" height="0.6"/><rect x="1" y="4.10" width="10" height="0.6"/><rect x="1" y="5.70" width="10" height="0.6"/><rect x="1" y="7.30" width="10" height="0.6"/><rect x="1" y="8.90" width="10" height="0.6"/><rect x="6.5" y="12.00" width="2.5" height="0.5" fill="#2986b8"/><rect x="6.5" y="13.80" width="2.5" height="0.5" fill="#2986b8"/><rect x="6.5" y="15.60" width="2.5" height="0.5" fill="#2986b8"/><rect x="6.5" y="17.40" width="2.5" height="0.5" fill="#2986b8"/><rect x="6.5" y="19.20" width="2.5" height="0.5" fill="#2986b8"/><rect x="6.5" y="21.00" width="2.5" height="0.5" fill="#2986b8"/><rect x="6.5" y="22.80" width="2.5" height="0.5" fill="#2986b8"/><rect x="6.5" y="24.60" width="2.5" height="0.5" fill="#2986b8"/><rect x="6.5" y="26.40" width="2.5" height="0.5" fill="#2986b8"/><rect x="6.5" y="28.20" width="2.5" height="0.5" fill="#2986b8"/><circle cx="4" cy="13" r="0.55" fill="#1f6c9c"/></g>
<polygon points="240.20,192.60 244.80,190.20 251.20,193.80 246.60,196.20" fill="#2f9fd0"/>
<polygon points="240.20,192.60 246.60,196.20 246.60,197.00 240.20,193.40" fill="#1d6b9a"/>
<polygon points="244.40,189.00 246.20,190.00 246.20,193.50 244.40,192.50" fill="#2a8cc0"/>
<polygon points="237.00,176.20 238.50,175.40 250.60,182.40 250.60,194.60 249.20,195.40 237.00,188.40" fill="#14466c"/>
<polygon points="237.00,176.20 249.20,183.20 249.20,195.40 237.00,188.40" fill="#3cb2de"/>
<polygon points="238.10,178.20 248.20,184.00 248.20,193.40 238.10,187.60" fill="#c6c6c6"/>
<defs><linearGradient id="pcL" x1="634" x2="644" y1="0" y2="0" gradientUnits="userSpaceOnUse"><stop offset="0" stop-color="#2a83b8"/><stop offset="0.3" stop-color="#3296c8"/><stop offset="0.55" stop-color="#2a86bc"/><stop offset="1" stop-color="#35a0d0"/></linearGradient></defs>
<path d="M634.00,523.00 Q634.00,522.50 634.43,522.25 L649.89,513.48 Q652.50,512.00 655.13,513.44 L661.12,516.72 Q662.00,517.20 662.00,518.20 L662.00,541.00 Q662.00,542.00 661.13,542.49 L643.93,552.25 Q643.50,552.50 643.06,552.26 L634.44,547.54 Q634.00,547.30 634.00,546.80 Z" fill="#2f95c8"/>
<polygon points="634.00,522.50 643.50,527.70 643.50,552.50 634.00,547.30" fill="url(#pcL)" stroke="#2f95c8" stroke-width="0.3"/>
<path d="M634.44,522.74 Q634.00,522.50 634.43,522.25 L649.89,513.48 Q652.50,512.00 655.13,513.44 L661.12,516.72 Q662.00,517.20 661.13,517.69 L643.93,527.45 Q643.50,527.70 643.06,527.46 Z" fill="#38a2d2" stroke="#2f95c8" stroke-width="0.3"/>
<polygon points="649.50,549.00 658.00,544.50 670.50,551.50 662.00,556.00" fill="#33a3d3"/>
<polygon points="649.50,549.00 662.00,556.00 662.00,559.00 649.50,552.00" fill="#2a86ba"/>
<polygon points="662.00,556.00 670.50,551.50 670.50,554.50 662.00,559.00" fill="#23709f"/>
<line x1="649.5" y1="549" x2="654" y2="546.6" stroke="#bfe8f5" stroke-width="0.7"/>
<polygon points="648.50,516.20 650.80,515.20 677.20,530.50 677.20,556.00 674.80,557.00 648.50,541.80" fill="#14456a"/>
<polygon points="648.50,516.20 674.80,531.40 674.80,557.00 648.50,541.80" fill="#3db4de"/>
<polygon points="650.00,519.60 673.20,533.00 673.20,553.00 650.00,539.80" fill="#c2c2c2"/>
<polygon points="650.40,520.00 672.80,533.00 672.80,534.00 650.40,521.00" fill="#8a9aa4"/>
<g font-family="Liberation Sans, sans-serif" fill="#000">
<text x="360.8" y="50.4" font-size="22.5" font-weight="bold" textLength="207.5" lengthAdjust="spacingAndGlyphs">AGV系统部署示意图</text>
<text x="289.5" y="213" font-size="17" font-weight="normal" >WCS系统</text>
<text x="507" y="213" font-size="17" font-weight="normal" >核心交换机</text>
<text x="710.5" y="213" font-size="17" font-weight="normal" >无线控制器</text>
<text x="200.5" y="383" font-size="17" font-weight="normal" >POE交换机</text>
<text x="698" y="381.5" font-size="17" font-weight="normal" >接入交换机</text>
<text x="146.5" y="480" font-size="17" font-weight="normal" >放装AP</text>
<text x="462.5" y="480" font-size="17" font-weight="normal" >放装AP</text>
<text x="698" y="541" font-size="17" font-weight="normal" >操作台终端</text>
<text x="248" y="678" font-size="17" font-weight="normal" >AGV小车</text>
<text x="132.5" y="718" font-size="16" font-weight="bold" textLength="31" lengthAdjust="spacingAndGlyphs">图例</text>
<text x="166.8" y="717.2" font-size="17" font-weight="bold" >:</text>
<text x="294.5" y="721" font-size="16.5" font-weight="normal" >1G Base-SX/LX千兆光链路</text>
<text x="603.5" y="721" font-size="16.5" font-weight="normal" textLength="179" lengthAdjust="spacingAndGlyphs">1000Base-T千兆电链路</text>
</g>
<line x1="219" y1="716" x2="282" y2="716" stroke="#ffc000" stroke-width="3"/>
<line x1="522" y1="716" x2="594" y2="716" stroke="#000" stroke-width="2"/>
</svg>
</body></html>
